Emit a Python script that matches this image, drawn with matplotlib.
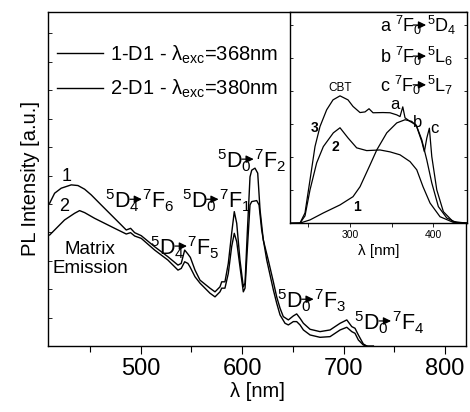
import matplotlib
matplotlib.use("Agg")
import matplotlib.pyplot as plt
from matplotlib.ticker import MultipleLocator, FixedLocator
from matplotlib.transforms import offset_copy

plt.rcParams['font.family'] = ['Liberation Sans', 'DejaVu Sans']
plt.rcParams['mathtext.fontset'] = 'custom'
plt.rcParams['mathtext.rm'] = 'Liberation Sans'
plt.rcParams['mathtext.it'] = 'Liberation Sans:italic'
plt.rcParams['mathtext.bf'] = 'Liberation Sans:bold'

# ---- main spectra (emission) ----
wl1 = [410.3, 415.2, 421.7, 431.6, 438.2, 444.8, 451.3, 461.1, 471.0, 480.9, 485.8, 490.1, 494.1,
       500.6, 513.8, 526.9, 536.8, 540.0, 543.4, 546.6, 549.0, 553.6, 558.5, 568.3, 573.3, 578.2,
       579.9, 583.1, 586.4, 589.7, 592.3, 594.7, 597.9, 601.2, 602.9, 605.1, 607.8, 609.5, 612.7,
       615.4, 617.7, 620.9, 625.8, 630.8, 634.1, 637.4, 640.6, 645.6, 650.5, 653.8, 657.1, 660.4,
       667.0, 676.8, 686.7, 696.6, 703.2, 708.1, 711.3, 714.6, 719.5, 722.9, 729.4]
pl1 = [42.7, 45.7, 47.2, 48.2, 48.0, 46.9, 45.2, 42.2, 39.2, 36.2, 34.7, 35.2, 33.9,
       33.0, 29.7, 26.7, 24.2, 24.7, 28.7, 27.5, 26.5, 22.7, 19.7, 17.3, 16.2, 17.7,
       19.2, 19.2, 24.7, 33.7, 40.2, 36.7, 25.7, 17.7, 18.8, 33.7, 50.6, 52.6, 53.2,
       51.7, 40.7, 31.7, 25.7, 19.2, 14.7, 11.3, 8.8, 7.8, 9.0, 9.6, 8.3, 6.8,
       5.0, 4.3, 4.8, 6.8, 7.8, 5.8, 5.3, 3.3, 0.6, 0.0, 0.0]

wl2 = [410.3, 415.2, 425.0, 434.9, 439.8, 444.8, 454.6, 464.5, 474.4, 485.8, 490.1, 494.1,
       500.6, 513.8, 526.9, 536.8, 540.0, 543.4, 546.6, 548.6, 553.6, 558.5, 568.3, 573.3, 578.2,
       579.9, 583.1, 586.4, 589.7, 592.3, 594.7, 597.9, 601.2, 602.9, 605.1, 607.8, 609.5, 614.4,
       616.7, 619.3, 624.3, 630.8, 634.1, 637.4, 642.3, 645.6, 650.5, 653.8, 657.1, 660.4,
       667.0, 676.8, 686.7, 696.6, 703.2, 708.1, 711.3, 714.6, 719.5, 722.9]
pl2 = [33.2, 34.7, 37.7, 39.7, 40.5, 39.9, 38.2, 36.7, 35.2, 33.5, 33.9, 32.9,
       32.2, 28.7, 25.7, 22.7, 23.2, 25.2, 24.7, 23.7, 20.7, 18.8, 15.8, 14.7, 16.2,
       17.3, 17.3, 21.7, 29.7, 33.7, 31.2, 23.7, 16.2, 17.3, 28.7, 42.2, 43.2, 43.5,
       42.2, 34.7, 25.7, 16.8, 12.8, 9.3, 6.8, 6.3, 7.3, 7.3, 6.3, 4.8,
       3.3, 2.6, 2.8, 4.8, 5.6, 4.3, 3.8, 1.8, 0.3, 0.0]

labels_main = ['1-D1 - λ$_{\\mathregular{exc}}$=368nm', '2-D1 - λ$_{\\mathregular{exc}}$=380nm']

# transitions: (left part, right part, x [nm], baseline [a.u.])
em_from = ['$\\mathregular{^{5}D_{4}}$', '$\\mathregular{^{5}D_{4}}$', '$\\mathregular{^{5}D_{0}}$',
           '$\\mathregular{^{5}D_{0}}$', '$\\mathregular{^{5}D_{0}}$', '$\\mathregular{^{5}D_{0}}$']
em_to = ['$\\mathregular{^{7}F_{6}}$', '$\\mathregular{^{7}F_{5}}$', '$\\mathregular{^{7}F_{1}}$',
         '$\\mathregular{^{7}F_{2}}$', '$\\mathregular{^{7}F_{3}}$', '$\\mathregular{^{7}F_{4}}$']
em_x = [464.8, 509.2, 540.4, 575.0, 634.1, 710.4]
em_y = [41.2, 27.2, 41.2, 53.2, 11.3, 4.8]

# ---- inset spectra (excitation) ----
ex_wl1 = [228, 240, 252, 268, 288, 303.6, 312, 324, 332.1, 344.1, 356.1, 366, 374.1, 380.1,
          386.1, 392.1, 398.1, 406, 416.1, 428.1, 440]
ex1 = [0.0, 0.1, 1.6, 4.9, 8.7, 12.6, 17.3, 27.6, 34.7, 42.8, 47.5, 49.0, 48.2, 45.8,
       39.5, 30.0, 19.1, 7.9, 2.5, 0.3, 0.1]
ex_wl2 = [228, 240, 246, 252, 260, 268, 280, 288, 297.6, 308, 320, 336, 348, 360, 372,
          380.1, 387.6, 396, 408, 423.6, 440]
ex2 = [0.0, 0.1, 3.5, 15.8, 28.6, 36.3, 42.8, 45.2, 40.4, 35.7, 34.4, 34.7, 33.8, 32.4, 29.2,
       25.3, 17.3, 9.6, 3.1, 0.5, 0.1]
ex_wl3 = [228, 240, 246, 252, 258, 264, 272, 279.6, 288, 297.6, 303.6, 312, 318, 322.8, 327.6,
          339.6, 348, 356.1, 360, 363.3, 366, 372, 379.2, 386.1, 389.2, 392.1, 395.2, 398.1,
          404.1, 412, 423.6, 440]
ex3 = [0.0, 0.1, 4.9, 20.5, 36.3, 45.8, 53.7, 58.4, 60.3, 58.4, 55.3, 52.4, 52.7, 54.2, 52.3,
       52.4, 52.3, 51.3, 50.5, 55.1, 49.9, 48.2, 46.6, 38.7, 33.9, 40.3, 45.0, 31.6,
       15.8, 5.5, 0.8, 0.1]

ex_from = ['a $\\mathregular{^{7}F_{0}}$', 'b $\\mathregular{^{7}F_{0}}$', 'c $\\mathregular{^{7}F_{0}}$']
ex_to = ['$\\mathregular{^{5}D_{4}}$', '$\\mathregular{^{5}L_{6}}$', '$\\mathregular{^{5}L_{7}}$']
ex_y = [0.905, 0.758, 0.622]

fig = plt.figure(figsize=(4.70, 4.12), dpi=100)


def transition(axis, x, y, p1, p2, fs, a0, a1, dx2, ady, transform):
    axis.text(x, y, p1, fontsize=fs, ha='left', va='baseline', transform=transform)
    axis.annotate('', xy=(x, y), xycoords=offset_copy(transform, x=a1, y=ady, units='dots'),
                  xytext=(x, y), textcoords=offset_copy(transform, x=a0, y=ady, units='dots'),
                  arrowprops=dict(arrowstyle='-|>,head_length=0.45,head_width=0.22',
                                  lw=0.9, color='black', shrinkA=0, shrinkB=0,
                                  mutation_scale=10),
                  annotation_clip=False)
    axis.text(x, y, p2, fontsize=fs, ha='left', va='baseline',
              transform=offset_copy(transform, x=dx2, units='dots'))


ax = fig.add_axes([0.1028, 0.1602, 0.8887, 0.8114])
lw = 1.0
l1, = ax.plot(wl1, pl1, color='black', lw=lw)
l2, = ax.plot(wl2, pl2, color='black', lw=lw)
ax.set_xlim(409, 820.7)
ax.set_ylim(0, 100)
ax.xaxis.set_major_locator(MultipleLocator(100))
ax.xaxis.set_minor_locator(MultipleLocator(50))
ax.tick_params(axis='x', which='major', direction='out', length=6, width=0.8, labelsize=17, pad=3)
ax.tick_params(axis='x', which='minor', direction='out', length=4, width=0.8)
ax.yaxis.set_major_locator(MultipleLocator(8.5))
ax.tick_params(axis='y', which='major', direction='in', length=3, width=0.6, labelleft=False)
for s in ax.spines.values():
    s.set_linewidth(1.0)
ax.set_xlabel('λ [nm]', fontsize=14.5, labelpad=1)
ax.set_ylabel('PL Intensity [a.u.]', fontsize=14.5, labelpad=6)

ax.legend([l1, l2], labels_main, loc='upper left', bbox_to_anchor=(0.021, 0.905),
          frameon=False, fontsize=14.5, handlelength=2.3, handletextpad=0.35,
          labelspacing=0.6, borderpad=0, borderaxespad=0)

for p1, p2, x, y in zip(em_from, em_to, em_x, em_y):
    transition(ax, x, y, p1, p2, 15.5, 25, 37, 37.5, 9, ax.transData)

ax.text(426.6, 50.6, '1', fontsize=13, ha='center', va='center')
ax.text(425.0, 41.7, '2', fontsize=13, ha='center', va='center')
ax.text(450.0, 26.0, 'Matrix\nEmission', fontsize=13.5, ha='center', va='center', linespacing=1.15)

# ---- inset ----
axi = fig.add_axes([0.617, 0.458, 0.376, 0.513])
axi.plot(ex_wl1, ex1, color='black', lw=0.9)
axi.plot(ex_wl2, ex2, color='black', lw=0.9)
axi.plot(ex_wl3, ex3, color='black', lw=0.9)
axi.set_xlim(228, 440)
axi.set_ylim(0, 100)
axi.xaxis.set_major_locator(FixedLocator([300, 400]))
axi.xaxis.set_minor_locator(FixedLocator([250, 350]))
axi.tick_params(axis='x', which='major', direction='out', length=3, width=0.6, labelsize=7.5, pad=2)
axi.tick_params(axis='x', which='minor', direction='out', length=3, width=0.6)
axi.yaxis.set_major_locator(MultipleLocator(15.6))
axi.tick_params(axis='y', which='major', direction='in', length=2.5, width=0.6,
                left=True, right=True, labelleft=False)
for s in axi.spines.values():
    s.set_linewidth(1.0)
axi.set_xlabel('λ [nm]', fontsize=11, labelpad=3)

axi.text(288, 64.1, 'CBT', fontsize=8.5, ha='center', va='center')
axi.text(258, 45.2, '3', fontsize=10, fontweight='bold', ha='center', va='center')
axi.text(282, 36.3, '2', fontsize=10, fontweight='bold', ha='center', va='center')
axi.text(308, 7.9, '1', fontsize=10, fontweight='bold', ha='center', va='center')
axi.text(354, 56.0, 'a', fontsize=12, ha='center', va='center')
axi.text(381.6, 47.5, 'b', fontsize=12, ha='center', va='center')
axi.text(400.8, 44.7, 'c', fontsize=12, ha='center', va='center')

for p1, p2, y in zip(ex_from, ex_to, ex_y):
    transition(axi, 0.51, y, p1, p2, 13, 33, 46, 47, 7, axi.transAxes)

fig.savefig('out.png', dpi=100)
